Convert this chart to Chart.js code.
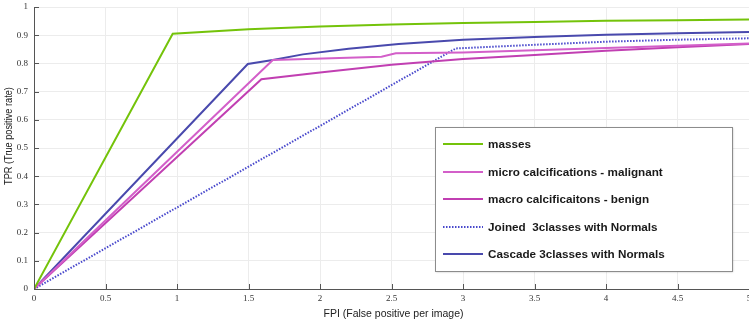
<!DOCTYPE html>
<html><head><meta charset="utf-8">
<script src="https://cdn.jsdelivr.net/npm/chart.js@4.4.1/dist/chart.umd.min.js"></script>
<style>html,body{margin:0;padding:0;background:#fff;overflow:hidden}#wrap{width:749px;height:326px;position:relative}</style>
</head><body><div id="wrap"><canvas id="c" width="749" height="326"></canvas></div>
<script>
// ---- data ----
const seriesNames = [
  'masses',
  'micro calcifications - malignant',
  'macro calcificaitons - benign',
  'Joined  3classes with Normals',
  'Cascade 3classes with Normals'
];
const massesFPI = [0, 0.97, 1.5, 2, 2.5, 3, 3.5, 4, 4.5, 5];
const massesTPR = [0, 0.905, 0.921, 0.931, 0.938, 0.943, 0.947, 0.951, 0.953, 0.956];
const microFPI  = [0, 1.67, 2.43, 2.53, 3, 3.5, 4, 4.5, 5];
const microTPR  = [0, 0.812, 0.824, 0.836, 0.839, 0.847, 0.855, 0.863, 0.871];
const macroFPI  = [0, 1.59, 2, 2.5, 3, 3.5, 4, 4.5, 5];
const macroTPR  = [0, 0.744, 0.768, 0.795, 0.816, 0.83, 0.845, 0.857, 0.869];
const joinedFPI = [0, 2.95, 3.5, 4, 4.5, 5];
const joinedTPR = [0, 0.853, 0.866, 0.877, 0.884, 0.889];
const cascadeFPI = [0, 1.495, 1.67, 1.88, 2.2, 2.55, 3.0, 3.5, 4.0, 4.5, 5];
const cascadeTPR = [0, 0.798, 0.812, 0.832, 0.852, 0.869, 0.884, 0.894, 0.902, 0.907, 0.911];
const xTickValues = [0, 0.5, 1, 1.5, 2, 2.5, 3, 3.5, 4, 4.5, 5];
const yTickValues = [0, 0.1, 0.2, 0.3, 0.4, 0.5, 0.6, 0.7, 0.8, 0.9, 1];
const xTitle = 'FPI (False positive per image)';
const yTitle = 'TPR (True positive rate)';

const pts = (xs, ys) => xs.map((x, i) => ({x, y: ys[i]}));

const sans = "'Liberation Sans', Arial, sans-serif";
const tickFont = {family: "'Liberation Serif', 'DejaVu Serif', serif", size: 9};

const inwardTicks = {
  id: 'inwardTicks',
  afterDatasetsDraw(chart) {
    const {ctx, chartArea, scales} = chart;
    ctx.save();
    ctx.strokeStyle = '#555';
    ctx.lineWidth = 1;
    ctx.beginPath();
    xTickValues.forEach(v => {
      const px = Math.round(scales.x.getPixelForValue(v)) + 0.5;
      ctx.moveTo(px, chartArea.bottom);
      ctx.lineTo(px, chartArea.bottom - 5);
    });
    yTickValues.forEach(v => {
      const py = Math.round(scales.y.getPixelForValue(v)) + 0.5;
      ctx.moveTo(chartArea.left, py);
      ctx.lineTo(chartArea.left + 5, py);
    });
    ctx.stroke();
    ctx.restore();
  }
};

// axis titles (real text, drawn next to the scales)
const axisTitles = {
  id: 'axisTitles',
  afterDraw(chart) {
    const {ctx, chartArea} = chart;
    ctx.save();
    ctx.fillStyle = '#222';
    ctx.textAlign = 'center';
    ctx.textBaseline = 'middle';
    ctx.font = '10.5px ' + sans;
    ctx.fillText(xTitle, (chartArea.left + chartArea.right) / 2 + 2, chartArea.bottom + 25);
    ctx.translate(9, (chartArea.top + chartArea.bottom) / 2 - 12);
    ctx.rotate(-Math.PI / 2);
    ctx.scale(0.8, 1);
    ctx.font = '11.5px ' + sans;
    ctx.fillText(yTitle, 0, 0);
    ctx.restore();
  }
};

const legendBox = {
  id: 'legendBox',
  afterDraw(chart) {
    const ctx = chart.ctx;
    const L = 435, T = 127, W = 297, H = 144;
    ctx.save();
    ctx.shadowColor = 'rgba(0,0,0,0.25)';
    ctx.shadowOffsetX = 1; ctx.shadowOffsetY = 1; ctx.shadowBlur = 2;
    ctx.fillStyle = '#fff';
    ctx.fillRect(L, T, W, H);
    ctx.shadowColor = 'transparent';
    ctx.strokeStyle = '#8c8c8c';
    ctx.lineWidth = 1;
    ctx.strokeRect(L + 0.5, T + 0.5, W, H);
    chart.data.datasets.forEach((ds, i) => {
      const y = Math.round(144 + i * 27.5);
      ctx.beginPath();
      ctx.strokeStyle = ds.borderColor;
      ctx.lineWidth = ds.borderWidth;
      ctx.setLineDash(ds.borderDash || []);
      ctx.moveTo(443, y); ctx.lineTo(483, y);
      ctx.stroke();
      ctx.setLineDash([]);
      ctx.fillStyle = '#1a1a1a';
      ctx.font = "bold 11.7px " + sans;
      ctx.textBaseline = 'middle';
      ctx.fillText(ds.label, 488, y + 0.5);
    });
    ctx.restore();
  }
};

const mk = (label, data, color, dash) => ({
  label, data, borderColor: color, backgroundColor: color,
  borderWidth: 2, borderDash: dash || [], pointRadius: 0, tension: 0, fill: false
});

new Chart(document.getElementById('c'), {
  type: 'line',
  data: {
    datasets: [
      mk(seriesNames[0], pts(massesFPI, massesTPR), '#74c30a'),
      mk(seriesNames[1], pts(microFPI, microTPR), '#d35fc9'),
      mk(seriesNames[2], pts(macroFPI, macroTPR), '#c13fb2'),
      mk(seriesNames[3], pts(joinedFPI, joinedTPR), '#4848cc', [1.5, 1.5]),
      mk(seriesNames[4], pts(cascadeFPI, cascadeTPR), '#4949ad')
    ]
  },
  options: {
    responsive: false,
    devicePixelRatio: 1,
    animation: false,
    layout: {padding: {top: 7, right: 0, left: 0, bottom: 0}},
    plugins: {legend: {display: false}, tooltip: {enabled: false}},
    scales: {
      x: {
        type: 'linear', min: 0, max: 5,
        afterBuildTicks: s => { s.ticks = xTickValues.map(v => ({value: v})); },
        ticks: {font: tickFont, color: '#333', padding: 4, maxRotation: 0, autoSkip: false,
                callback: v => String(v)},
        grid: {color: '#ececec', drawTicks: false},
        border: {display: true, color: '#555', width: 1},
        title: {display: false},
        afterFit: s => { s.height = 37; s.paddingLeft = 0; s.paddingRight = 0; }
      },
      y: {
        min: 0, max: 1,
        afterBuildTicks: s => { s.ticks = yTickValues.map(v => ({value: v})); },
        ticks: {font: tickFont, color: '#333', padding: 6, autoSkip: false,
                callback: v => String(v)},
        grid: {color: '#ececec', drawTicks: false},
        border: {display: true, color: '#555', width: 1},
        title: {display: false},
        afterFit: s => { s.width = 34; s.paddingTop = 0; s.paddingBottom = 0; }
      }
    }
  },
  plugins: [inwardTicks, axisTitles, legendBox]
});
</script>
</body></html>
